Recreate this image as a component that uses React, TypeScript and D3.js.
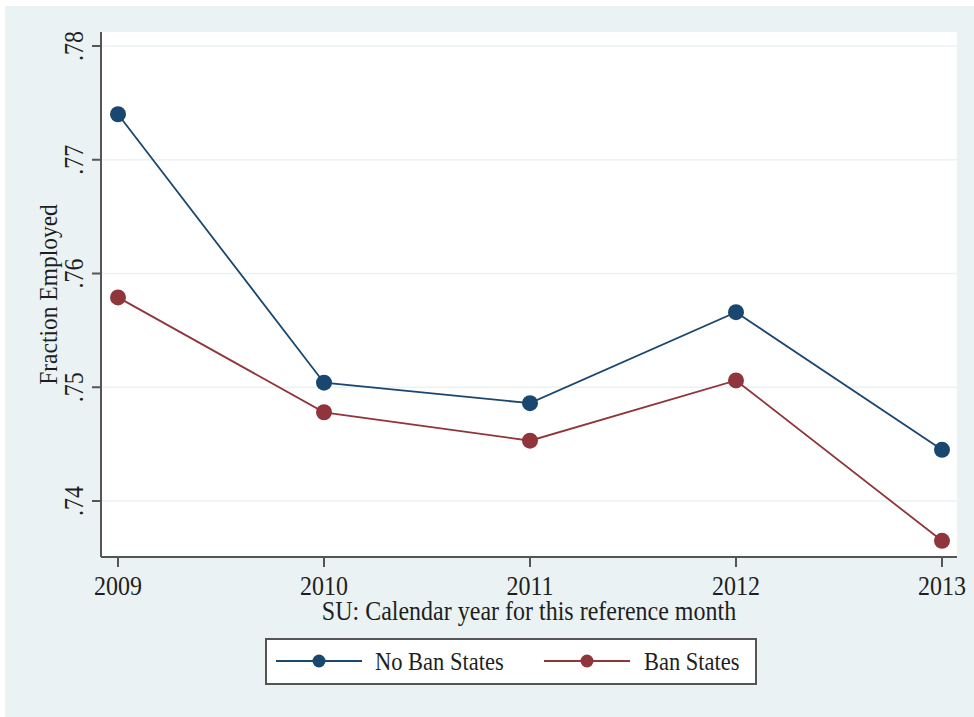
import React from "react";
import * as d3 from "d3";

// Fraction employed by calendar year, split by state ban status
const years = [2009, 2010, 2011, 2012, 2013];
const noBanStates = [0.7740, 0.7504, 0.7486, 0.7566, 0.7445];
const banStates = [0.7579, 0.7478, 0.7453, 0.7506, 0.7365];
const yTicks = [0.74, 0.75, 0.76, 0.77, 0.78];
const seriesNames = ["No Ban States", "Ban States"];

const W = 974;
const H = 717;
const plot = { left: 101, right: 957, top: 32, bottom: 557 };

const NAVY = "#1a476f";
const MAROON = "#90353b";
const BG = "#eaf2f3";
const AXIS = "#555555";
const INK = "#1e1e1e";
const FONT = "'Liberation Serif', 'Times New Roman', serif";
const TALL = 1.1; // slightly taller glyphs for the serif labels

function Label(props: {
  x: number;
  y: number;
  rotate?: number;
  size: number;
  anchor?: "start" | "middle" | "end";
  children: React.ReactNode;
}) {
  const { x, y, rotate = 0, size, anchor = "middle", children } = props;
  return (
    <text
      transform={`translate(${x},${y}) rotate(${rotate}) scale(1,${TALL})`}
      textAnchor={anchor}
      fontSize={size}
      fill={INK}
    >
      {children}
    </text>
  );
}

export default function App() {
  const x = d3.scaleLinear().domain([2009, 2013]).range([118, 942]);
  const y = d3.scaleLinear().domain([0.74, 0.78]).range([501, 46]);

  const line = d3
    .line<number>()
    .x((_, i) => x(years[i]))
    .y((d) => y(d));

  const series = [
    { name: seriesNames[0], values: noBanStates, color: NAVY },
    { name: seriesNames[1], values: banStates, color: MAROON },
  ];

  const fmt = (v: number) => d3.format(".2f")(v).replace(/^0/, "");

  return (
    <svg
      width={W}
      height={H}
      style={{ position: "absolute", left: 0, top: 0, display: "block" }}
      fontFamily={FONT}
    >
      <rect x={0} y={0} width={W} height={H} fill="#ffffff" />
      <rect x={5} y={6} width={W - 5} height={H - 6} fill={BG} />
      <rect
        x={plot.left}
        y={plot.top}
        width={plot.right - plot.left}
        height={plot.bottom - plot.top}
        fill="#ffffff"
      />

      {/* horizontal gridlines */}
      {yTicks.map((t) => (
        <line
          key={"g" + t}
          x1={plot.left}
          x2={plot.right}
          y1={y(t)}
          y2={y(t)}
          stroke={BG}
          strokeWidth={1.5}
        />
      ))}

      {/* y axis */}
      <line x1={plot.left} x2={plot.left} y1={plot.top} y2={plot.bottom} stroke={AXIS} strokeWidth={2} />
      {yTicks.map((t) => (
        <g key={"y" + t}>
          <line x1={plot.left - 9} x2={plot.left} y1={y(t)} y2={y(t)} stroke={AXIS} strokeWidth={2} />
          <Label x={83} y={y(t)} rotate={-90} size={24}>
            {fmt(t)}
          </Label>
        </g>
      ))}
      <Label x={57} y={(plot.top + plot.bottom) / 2} rotate={-90} size={23.5}>
        Fraction Employed
      </Label>

      {/* x axis */}
      <line x1={plot.left} x2={plot.right} y1={plot.bottom} y2={plot.bottom} stroke={AXIS} strokeWidth={2} />
      {years.map((yr) => (
        <g key={"x" + yr}>
          <line x1={x(yr)} x2={x(yr)} y1={plot.bottom} y2={plot.bottom + 10} stroke={AXIS} strokeWidth={2} />
          <Label x={x(yr)} y={595} size={24}>
            {yr}
          </Label>
        </g>
      ))}
      <Label x={(plot.left + plot.right) / 2} y={620} size={24}>
        SU: Calendar year for this reference month
      </Label>

      {/* series */}
      {series.map((s) => (
        <g key={s.name}>
          <path d={line(s.values) || ""} fill="none" stroke={s.color} strokeWidth={1.8} />
          {s.values.map((v, i) => (
            <circle key={i} cx={x(years[i])} cy={y(v)} r={8} fill={s.color} />
          ))}
        </g>
      ))}

      {/* legend */}
      <rect x={266} y={639} width={490} height={45} fill="#ffffff" stroke={AXIS} strokeWidth={2} />
      {series.map((s, i) => {
        const x0 = i === 0 ? 276 : 544;
        const tx = i === 0 ? 375 : 644;
        return (
          <g key={"lg" + s.name}>
            <line x1={x0} x2={x0 + 86} y1={661} y2={661} stroke={s.color} strokeWidth={1.8} />
            <circle cx={x0 + 43} cy={661} r={6.5} fill={s.color} />
            <Label x={tx} y={670} size={22.5} anchor="start">
              {s.name}
            </Label>
          </g>
        );
      })}
    </svg>
  );
}
